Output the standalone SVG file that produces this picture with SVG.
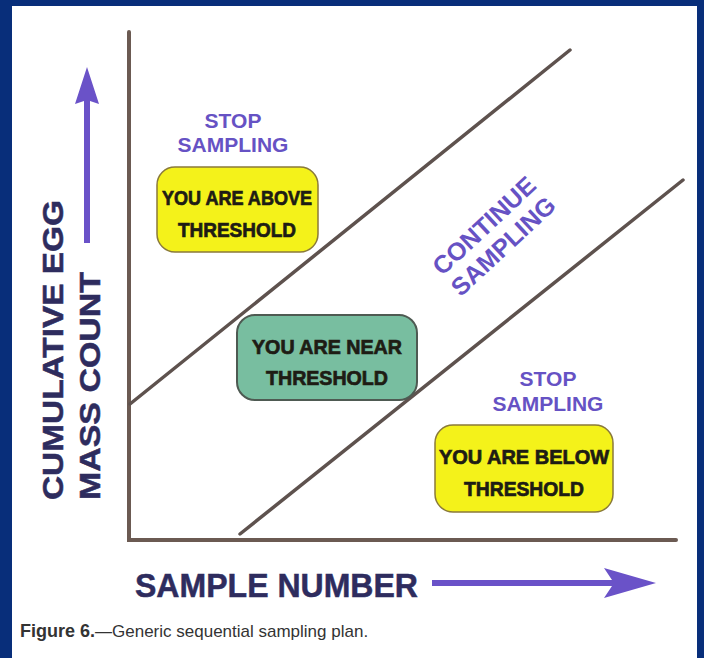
<svg xmlns="http://www.w3.org/2000/svg" width="704" height="658" viewBox="0 0 704 658">
<defs>
<style>
.axis{stroke:#6b5a52;stroke-width:4;fill:none;stroke-linecap:round}
.bnd{stroke:#5e524e;stroke-width:3.5;fill:none;stroke-linecap:round}
.ptxt{font-family:"Liberation Sans",Arial,sans-serif;font-weight:bold;fill:#6652c4;text-anchor:middle}
.btxt{font-family:"Liberation Sans",Arial,sans-serif;font-weight:bold;fill:#1e1c14;stroke:#1e1c14;stroke-width:0.7;text-anchor:middle}
.ax{font-family:"Liberation Sans",Arial,sans-serif;font-weight:bold;fill:#2e2c5e;stroke:#2e2c5e;stroke-width:0.5}
.ybox{fill:#f4f21a;stroke:#8a7a3a;stroke-width:1.5}
.gbox{fill:#78bea0;stroke:#4e5a52;stroke-width:2}
.parrow{fill:#6a52c8}
</style>
</defs>
<rect x="0" y="0" width="704" height="658" fill="#082e7a"/>
<rect x="12" y="6" width="685" height="652" fill="#ffffff"/>

<g id="connectors">
<polyline class="axis" points="129,32 129,540 676,540"/>
<line id="upper-boundary" class="bnd" x1="130" y1="404" x2="570" y2="50"/>
<line id="lower-boundary" class="bnd" x1="240" y1="534" x2="683" y2="180"/>
</g>

<g id="y-axis-label">
<polygon class="parrow" points="87,67 99,104 90,101 90,243 84,243 84,101 75,104"/>
<text class="ax" font-size="29" transform="translate(63,500) rotate(-90)" textLength="300" lengthAdjust="spacingAndGlyphs">CUMULATIVE EGG</text>
<text class="ax" font-size="29" transform="translate(100,500) rotate(-90)" textLength="228" lengthAdjust="spacingAndGlyphs">MASS COUNT</text>
</g>

<g id="x-axis-label">
<text class="ax" x="135" y="597" font-size="33" textLength="283" lengthAdjust="spacingAndGlyphs">SAMPLE NUMBER</text>
<polygon class="parrow" points="432,580 612,580 604,568 656,583 604,598 612,586 432,586"/>
</g>

<g id="stop-top">
<text class="ptxt" x="233" y="128" font-size="21">STOP</text>
<text class="ptxt" x="233" y="152" font-size="21">SAMPLING</text>
</g>

<g id="box-above">
<rect class="ybox" x="157" y="167" width="161" height="85" rx="18"/>
<text class="btxt" x="237" y="205" font-size="20" textLength="150" lengthAdjust="spacingAndGlyphs">YOU ARE ABOVE</text>
<text class="btxt" x="237" y="237" font-size="20" textLength="118" lengthAdjust="spacingAndGlyphs">THRESHOLD</text>
</g>

<g id="continue">
<g transform="translate(490,232) rotate(-43)">
<text class="ptxt" x="0" y="0" font-size="25">CONTINUE</text>
<text class="ptxt" x="0" y="28" font-size="25">SAMPLING</text>
</g>
</g>

<g id="box-near">
<rect class="gbox" x="237" y="315" width="180" height="85" rx="18"/>
<text class="btxt" x="327" y="354" font-size="20" textLength="150" lengthAdjust="spacingAndGlyphs">YOU ARE NEAR</text>
<text class="btxt" x="327" y="385" font-size="20" textLength="122" lengthAdjust="spacingAndGlyphs">THRESHOLD</text>
</g>

<g id="stop-bottom">
<text class="ptxt" x="548" y="386" font-size="21">STOP</text>
<text class="ptxt" x="548" y="411" font-size="21">SAMPLING</text>
</g>

<g id="box-below">
<rect class="ybox" x="435" y="425" width="178" height="87" rx="18"/>
<text class="btxt" x="524" y="464" font-size="20" textLength="170" lengthAdjust="spacingAndGlyphs">YOU ARE BELOW</text>
<text class="btxt" x="524" y="496" font-size="20" textLength="120" lengthAdjust="spacingAndGlyphs">THRESHOLD</text>
</g>

<g id="caption">
<text x="20" y="637" font-family="Liberation Sans,Arial,sans-serif" font-size="17" fill="#333"><tspan font-weight="bold" font-size="18">Figure 6.</tspan>—Generic sequential sampling plan.</text>
</g>
</svg>
